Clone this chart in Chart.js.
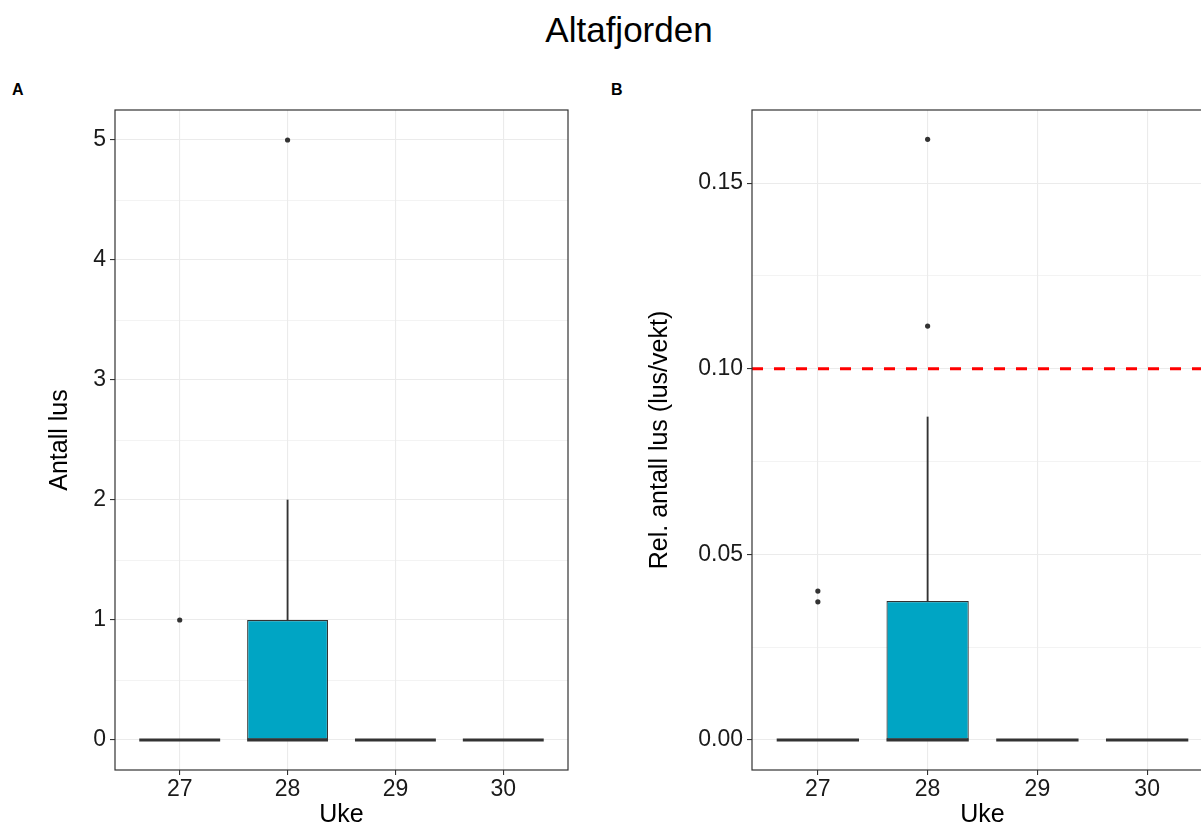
<!DOCTYPE html>
<html>
<head>
<meta charset="utf-8">
<script src="https://cdn.jsdelivr.net/npm/chart.js@4.4.1/dist/chart.umd.min.js"></script>
<style>
  html, body { margin: 0; padding: 0; background: #fff; overflow: hidden; }
  #page { position: relative; width: 1201px; height: 830px; overflow: hidden; font-family: "Liberation Sans", Arial, sans-serif; }
  #title { position: absolute; left: 0; top: 10px; width: 1258px; text-align: center; font-size: 35px; line-height: 40px; color: #000; }
  .tag { position: absolute; top: 80px; font-size: 16px; line-height: 20px; font-weight: bold; color: #000; }
  canvas { position: absolute; top: 80px; }
</style>
</head>
<body>
<div id="page">
  <div id="title">Altafjorden</div>
  <div class="tag" style="left:12px">A</div>
  <div class="tag" style="left:611px">B</div>
  <canvas id="chartA" width="590" height="750" style="left:0"></canvas>
  <canvas id="chartB" width="620" height="750" style="left:600px"></canvas>
</div>
<script>
// weeks on the x axis
const weeks = [27, 28, 29, 30];

// A: number of lice per fish
const countLower = [0, 0, 0, 0];
const countQ1 = [0, 0, 0, 0];
const countMedian = [0, 0, 0, 0];
const countQ3 = [0, 1, 0, 0];
const countUpper = [0, 2, 0, 0];
const countOutliers = [[1], [5], [], []];

// B: relative number of lice (lice / weight)
const relLower = [0, 0, 0, 0];
const relQ1 = [0, 0, 0, 0];
const relMedian = [0, 0, 0, 0];
const relQ3 = [0, 0.0374, 0, 0];
const relUpper = [0, 0.087, 0, 0];
const relOutliers = [[0.0401, 0.0372], [0.1115, 0.1618], [], []];
const relLimit = 0.10;

// tick labels
const countTicks = [0, 1, 2, 3, 4, 5];
const countTickLabels = ['0', '1', '2', '3', '4', '5'];
const relTicks = [0, 0.05, 0.10, 0.15];
const relTickLabels = ['0.00', '0.05', '0.10', '0.15'];

const FONT = "'Liberation Sans', Arial, sans-serif";
const BOX_FILL = '#00A5C4';
const DARK = '#333333';
const GRID = '#EBEBEB';
const X_MIN = 26.4, X_MAX = 30.6;

// major ticks plus minor ticks half way between them
function withMinor(major) {
  const out = [];
  major.forEach((v, i) => {
    out.push({ value: v, major: true });
    if (i < major.length - 1) out.push({ value: (v + major[i + 1]) / 2, major: false });
  });
  return out;
}

const medianPlugin = {
  id: 'boxMedians',
  afterDatasetsDraw(chart, args, opts) {
    const meta = chart.getDatasetMeta(0);
    const y = chart.scales.y;
    const ctx = chart.ctx;
    ctx.save();
    ctx.strokeStyle = DARK;
    ctx.lineWidth = 3;
    meta.data.forEach((bar, i) => {
      const py = y.getPixelForValue(opts.values[i]);
      ctx.beginPath();
      ctx.moveTo(bar.x - bar.width / 2, py);
      ctx.lineTo(bar.x + bar.width / 2, py);
      ctx.stroke();
    });
    ctx.restore();
  }
};

const framePlugin = {
  id: 'panelFrame',
  afterDraw(chart) {
    const a = chart.chartArea;
    const ctx = chart.ctx;
    ctx.save();
    ctx.strokeStyle = DARK;
    ctx.lineWidth = 1.2;
    ctx.strokeRect(a.left, a.top, a.right - a.left, a.bottom - a.top);
    ctx.restore();
  }
};

function makePanel(id, o) {
  const outlierPoints = [];
  o.outliers.forEach((vals, i) => vals.forEach(v => outlierPoints.push({ x: weeks[i], y: v })));

  const datasets = [
    {
      type: 'bar', order: 1, grouped: false,
      data: weeks.map((w, i) => ({ x: w, y: [o.q1[i], o.q3[i]] })),
      backgroundColor: BOX_FILL, borderColor: DARK, borderWidth: 1.2, borderSkipped: false,
      categoryPercentage: 1, barPercentage: 0.75
    },
    {
      type: 'bar', order: 2, grouped: false,
      data: weeks.map((w, i) => ({ x: w, y: [o.q3[i], o.upper[i]] })),
      backgroundColor: DARK, borderWidth: 0, barThickness: 1.2
    },
    {
      type: 'bar', order: 2, grouped: false,
      data: weeks.map((w, i) => ({ x: w, y: [o.lower[i], o.q1[i]] })),
      backgroundColor: DARK, borderWidth: 0, barThickness: 1.2
    },
    {
      type: 'scatter', order: 0,
      data: outlierPoints,
      pointRadius: 2.6, pointBackgroundColor: DARK, pointBorderWidth: 0
    }
  ];
  if (o.limit !== undefined) {
    datasets.push({
      type: 'line', order: 0,
      data: [{ x: X_MIN, y: o.limit }, { x: X_MAX, y: o.limit }],
      borderColor: '#FF0000', borderWidth: 3, borderDash: [11, 11],
      pointRadius: 0, fill: false
    });
  }

  return new Chart(document.getElementById(id), {
    type: 'bar',
    data: { datasets },
    options: {
      responsive: false,
      animation: false,
      layout: { padding: { left: 40, top: 30, right: o.rightPad, bottom: 0 } },
      plugins: {
        legend: { display: false },
        tooltip: { enabled: false },
        boxMedians: { values: o.median }
      },
      scales: {
        x: {
          type: 'linear', min: X_MIN, max: X_MAX, offset: false,
          afterBuildTicks: s => { s.ticks = weeks.map(w => ({ value: w })); },
          afterFit: s => { s.height = 60; },
          grid: { offset: false, color: GRID, lineWidth: 1.1, tickColor: DARK, tickLength: 5, tickWidth: 1.1 },
          border: { display: false },
          ticks: { color: '#1a1a1a', font: { family: FONT, size: 23 }, padding: 1, maxRotation: 0,
                   callback: v => String(v) },
          title: { display: true, text: 'Uke', color: '#000', font: { family: FONT, size: 25 },
                   padding: { top: 0, bottom: 0 } }
        },
        y: {
          type: 'linear', min: o.yMin, max: o.yMax,
          afterBuildTicks: s => { s.ticks = withMinor(o.ticks); },
          afterFit: s => { s.width = o.yWidth; },
          grid: {
            color: GRID,
            lineWidth: c => (c.tick && c.tick.major ? 1.1 : 0.6),
            tickColor: c => (c.tick && c.tick.major ? DARK : 'rgba(0,0,0,0)'),
            tickLength: 5, tickWidth: 1.1
          },
          border: { display: false },
          ticks: {
            color: '#1a1a1a', font: { family: FONT, size: 23 }, padding: 4,
            callback: v => {
              const k = o.ticks.findIndex(t => Math.abs(t - v) < 1e-9);
              return k >= 0 ? o.tickLabels[k] : '';
            }
          },
          title: { display: true, text: o.yTitle, color: '#000', font: { family: FONT, size: 25 },
                   padding: { top: 5, bottom: 0 } }
        }
      }
    },
    plugins: [medianPlugin, framePlugin]
  });
}

document.addEventListener('DOMContentLoaded', () => {
  makePanel('chartA', {
    lower: countLower, q1: countQ1, median: countMedian, q3: countQ3, upper: countUpper,
    outliers: countOutliers, ticks: countTicks, tickLabels: countTickLabels,
    yMin: -0.25, yMax: 5.25, yWidth: 75, rightPad: 22, yTitle: 'Antall lus'
  });
  makePanel('chartB', {
    lower: relLower, q1: relQ1, median: relMedian, q3: relQ3, upper: relUpper,
    outliers: relOutliers, ticks: relTicks, tickLabels: relTickLabels, limit: relLimit,
    yMin: -0.0081, yMax: 0.1697, yWidth: 112, rightPad: 7, yTitle: 'Rel. antall lus (lus/vekt)'
  });
});
</script>
</body>
</html>
